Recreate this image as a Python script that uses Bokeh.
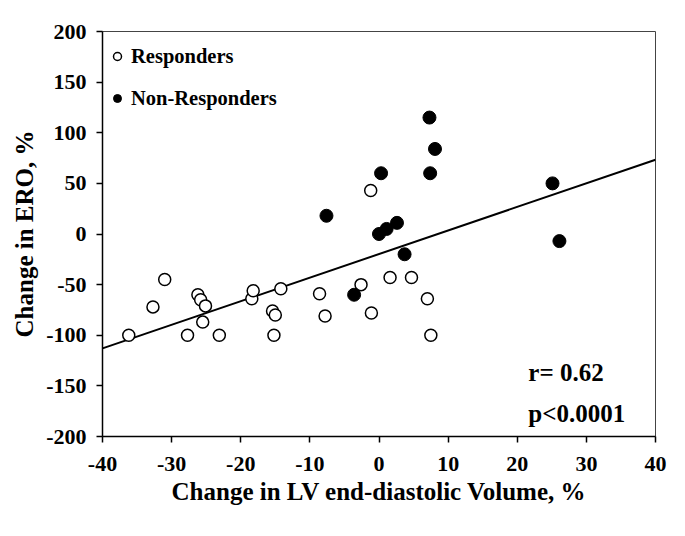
from bokeh.plotting import figure
from bokeh.models import Range1d, Label, Legend, LegendItem, FixedTicker
from bokeh.embed import file_html
from bokeh.resources import INLINE

# Data
resp_x = [-36.2, -32.7, -31.0, -27.7, -26.2, -25.8, -25.1, -25.5, -23.1, -18.4, -18.2,
          -15.4, -15.0, -15.2, -14.2, -8.6, -7.8, -2.6, -1.1, 1.6, -1.2, 4.7, 7.0, 7.5]
resp_y = [-100, -72, -45, -100, -60, -65, -71, -87, -100, -64, -56,
          -76, -80, -100, -54, -59, -81, -50, -78, -43, 43, -43, -64, -100]
nonresp_x = [-7.6, 0.3, 0.0, 1.1, 2.6, 7.3, 8.1, 7.4, 25.1, 26.1, 3.7, -3.6]
nonresp_y = [18, 60, 0, 5, 11, 115, 84, 60, 50, -7, -20, -60]
x_ticks = [-40, -30, -20, -10, 0, 10, 20, 30, 40]
y_ticks = [-200, -150, -100, -50, 0, 50, 100, 150, 200]
fit_slope = 2.33
fit_intercept = -19.8
x_range = (-40, 40)
y_range = (-200, 200)
stats_lines = ["r= 0.62", "p<0.0001"]
stats_y = [-137, -177]
stats_x = 21.6

FONT = "Liberation Serif"

p = figure(width=677, height=528, output_backend="svg", toolbar_location=None,
           x_range=Range1d(*x_range), y_range=Range1d(*y_range),
           min_border_left=102, min_border_right=22, min_border_top=31, min_border_bottom=92)
p.xgrid.visible = False
p.ygrid.visible = False
p.outline_line_color = "#444444"
p.outline_line_width = 1
p.background_fill_color = "white"
p.border_fill_color = "white"

for ax in (p.xaxis[0], p.yaxis[0]):
    ax.axis_line_color = "black"
    ax.axis_line_width = 1.5
    ax.major_tick_line_color = "black"
    ax.major_tick_line_width = 1.5
    ax.major_tick_in = 0
    ax.major_tick_out = 6
    ax.minor_tick_line_color = None
    ax.major_label_text_font = FONT
    ax.major_label_text_font_style = "bold"
    ax.major_label_text_font_size = "22px"
    ax.major_label_text_color = "black"
    ax.axis_label_text_font = FONT
    ax.axis_label_text_font_style = "bold"
    ax.axis_label_text_font_size = "25px"
    ax.axis_label_text_color = "black"

p.xaxis.ticker = FixedTicker(ticks=x_ticks)
p.yaxis.ticker = FixedTicker(ticks=y_ticks)
p.xaxis.major_label_overrides = {t: str(t) for t in x_ticks}
p.yaxis.major_label_overrides = {t: str(t) for t in y_ticks}
p.xaxis.axis_label = "Change in LV end-diastolic Volume, %"
p.yaxis.axis_label = "Change in ERO, %"
p.xaxis.major_label_standoff = 14
p.yaxis.major_label_standoff = 10
p.xaxis.axis_label_standoff = 4
p.yaxis.axis_label_standoff = 5

# regression line
p.line(x=list(x_range), y=[fit_intercept + fit_slope * v for v in x_range],
       line_color="black", line_width=2)

r_resp = p.scatter(resp_x, resp_y, marker="circle", size=12, fill_color="white",
                   line_color="black", line_width=1.5)
r_non = p.scatter(nonresp_x, nonresp_y, marker="circle", size=13, fill_color="black",
                  line_color="black", line_width=1)

legend = Legend(items=[LegendItem(label="Responders", renderers=[r_resp]),
                       LegendItem(label="Non-Responders", renderers=[r_non])],
                location="top_left")
legend.border_line_color = None
legend.background_fill_alpha = 0
legend.label_text_font = FONT
legend.label_text_font_style = "bold"
legend.label_text_font_size = "20.5px"
legend.label_text_color = "black"
legend.glyph_width = 20
legend.glyph_height = 40
legend.spacing = 2
legend.margin = 5
legend.padding = 0
legend.label_standoff = 4
p.add_layout(legend)

for txt, yy in zip(stats_lines, stats_y):
    p.add_layout(Label(x=stats_x, y=yy, text=txt, text_font=FONT, text_font_style="bold",
                       text_font_size="25px", text_baseline="middle", text_color="black"))

open("out.html", "w").write(file_html(p, INLINE))
